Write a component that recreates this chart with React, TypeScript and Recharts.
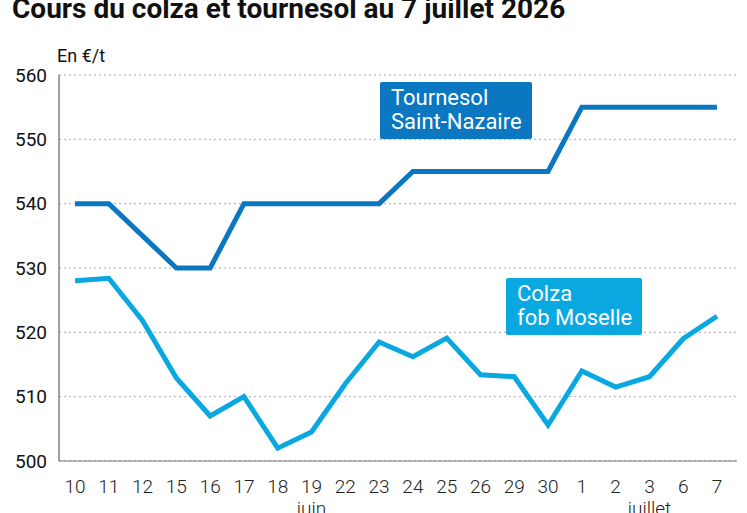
import { CartesianGrid, Line, LineChart, XAxis, YAxis } from "recharts";

// Trading days shown on the x axis, with the month name under the first
// day label that sits mid-month.
const DAYS = ["10", "11", "12", "15", "16", "17", "18", "19", "22", "23", "24", "25", "26", "29", "30", "1", "2", "3", "6", "7"];
const MONTH_UNDER: Record<number, string> = { 7: "juin", 17: "juillet" };

// Prices in €/t
const TOURNESOL = [540, 540, 535, 530, 530, 540, 540, 540, 540, 540, 545, 545, 545, 545, 545, 555, 555, 555, 555, 555];
const COLZA = [528, 528.4, 521.8, 512.9, 507, 510, 502, 504.5, 512, 518.5, 516.2, 519.1, 513.4, 513.1, 505.6, 514, 511.5, 513.1, 519, 522.5];

const Y_TICKS = [500, 510, 520, 530, 540, 550, 560];

const TOURNESOL_COLOR = "#0a77c0";
const COLZA_COLOR = "#0aa8e0";
const FONT = "Roboto, 'Noto Sans', sans-serif";

const data = DAYS.map((d, i) => ({
  day: d,
  tournesol: TOURNESOL[i],
  colza: COLZA[i],
}));

function DayTick(props: any) {
  const { x, y, payload } = props;
  const month = MONTH_UNDER[payload.index];
  return (
    <g>
      <text x={x} y={y} dy={24} textAnchor="middle" fontSize={19} fontWeight={300} fill="#222" fontFamily={FONT}>
        {payload.value}
      </text>
      {month ? (
        <text x={x} y={y} dy={46} textAnchor="middle" fontSize={19} fontWeight={300} fill="#222" fontFamily={FONT}>
          {month}
        </text>
      ) : null}
    </g>
  );
}

function SeriesTag({ left, top, color, lines }: { left: number; top: number; color: string; lines: string[] }) {
  return (
    <div
      style={{
        position: "absolute",
        left,
        top,
        background: color,
        color: "#fff",
        fontFamily: FONT,
        fontSize: 22,
        lineHeight: "24px",
        padding: "4px 10px 5px 11px",
        borderRadius: 2,
        whiteSpace: "nowrap",
      }}
    >
      {lines.map((l) => (
        <div key={l}>{l}</div>
      ))}
    </div>
  );
}

export default function App() {
  return (
    <div style={{ position: "absolute", left: 0, top: 0, width: 747, height: 513, overflow: "hidden", background: "#fff" }}>
      <div
        style={{
          position: "absolute",
          left: 12,
          top: -5,
          fontFamily: FONT,
          fontWeight: 700,
          fontSize: 28,
          lineHeight: "28px",
          color: "#111",
          whiteSpace: "nowrap",
        }}
      >
        Cours du colza et tournesol au 7 juillet 2026
      </div>
      <div style={{ position: "absolute", left: 57, top: 45, fontFamily: FONT, fontSize: 18, color: "#111" }}>En €/t</div>
      <LineChart
        width={747}
        height={513}
        data={data}
        margin={{ top: 75, right: 10, bottom: 0, left: 0 }}
        style={{ position: "absolute", left: 0, top: 0 }}
      >
        <CartesianGrid vertical={false} stroke="#aaa" strokeDasharray="2 3" />
        <XAxis
          dataKey="day"
          interval={0}
          height={52}
          padding={{ left: 16, right: 20 }}
          tickLine={false}
          axisLine={{ stroke: "#777" }}
          tick={<DayTick />}
        />
        <YAxis
          domain={[500, 560]}
          ticks={Y_TICKS}
          width={59}
          tickLine={false}
          tickSize={0}
          tickMargin={12}
          axisLine={{ stroke: "#444" }}
          tick={{ fontSize: 19, fill: "#111", fontFamily: FONT }}
        />
        <Line
          dataKey="tournesol"
          stroke={TOURNESOL_COLOR}
          strokeWidth={5}
          dot={false}
          type="linear"
          isAnimationActive={false}
        />
        <Line
          dataKey="colza"
          stroke={COLZA_COLOR}
          strokeWidth={5}
          dot={false}
          type="linear"
          isAnimationActive={false}
        />
      </LineChart>
      <SeriesTag left={380} top={82} color={TOURNESOL_COLOR} lines={["Tournesol", "Saint-Nazaire"]} />
      <SeriesTag left={506} top={278} color={COLZA_COLOR} lines={["Colza", "fob Moselle"]} />
    </div>
  );
}
